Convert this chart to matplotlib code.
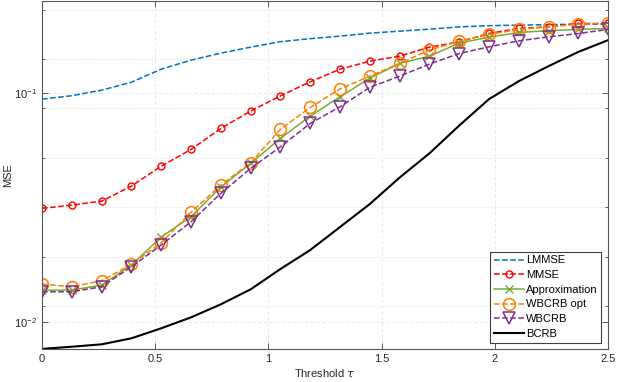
import numpy as np
import matplotlib
matplotlib.use("Agg")
import matplotlib.pyplot as plt
from matplotlib.ticker import FixedLocator, NullFormatter, LogFormatterMathtext

plt.rcParams['font.family'] = ['Liberation Sans', 'DejaVu Sans']
plt.rcParams['mathtext.default'] = 'regular'

# threshold values (20 points from 0 to 2.5)
tau = np.linspace(0, 2.5, 20)

lmmse = [0.0939, 0.0972, 0.1027, 0.1113, 0.1268, 0.1388, 0.1489, 0.1581, 0.1671, 0.1722,
         0.1766, 0.1820, 0.1857, 0.1894, 0.1938, 0.1962, 0.1972, 0.1982, 0.1992, 0.1992]
mmse = [0.03136, 0.03243, 0.03375, 0.03924, 0.04793, 0.05666, 0.06996, 0.08325, 0.0970, 0.1117,
        0.1268, 0.1374, 0.1445, 0.1581, 0.1668, 0.1814, 0.1908, 0.1939, 0.2006, 0.2006]
approx = [0.01382, 0.01382, 0.01453, 0.01777, 0.02352, 0.02889, 0.03884, 0.04927, 0.06329, 0.07916,
          0.09607, 0.1159, 0.1343, 0.1445, 0.1647, 0.1748, 0.1833, 0.1866, 0.1889, 0.1908]
wbcrb_opt = [0.01468, 0.01429, 0.01518, 0.01790, 0.02222, 0.03013, 0.03963, 0.04956, 0.06927, 0.08636,
             0.1040, 0.1182, 0.1343, 0.1535, 0.1680, 0.1796, 0.1889, 0.1939, 0.1992, 0.2006]
wbcrb = [0.01359, 0.01359, 0.01429, 0.01747, 0.02172, 0.02742, 0.03646, 0.04685, 0.05817, 0.07357,
         0.08690, 0.1056, 0.1182, 0.1334, 0.1484, 0.1586, 0.1685, 0.1754, 0.1814, 0.1889]
bcrb = [0.00766, 0.00783, 0.00802, 0.00852, 0.00942, 0.01051, 0.01198, 0.01392, 0.01707, 0.02065,
        0.02601, 0.03276, 0.04272, 0.05445, 0.07196, 0.09388, 0.1124, 0.1307, 0.1508, 0.1697]

y_minor = [0.01178, 0.01925, 0.03178, 0.0519, 0.0858, 0.1402, 0.2292]

fig = plt.figure(figsize=(6.18, 3.82), dpi=100)
ax = fig.add_axes([0.068, 0.0856, 0.916, 0.9125])

lw = 1.1
ax.plot(tau, lmmse, '--', color='#0072BD', lw=lw, label='LMMSE')
ax.plot(tau, mmse, '--o', color='#FF0000', lw=lw, ms=5, mfc='none', mew=1.0, label='MMSE')
ax.plot(tau, approx, '-x', color='#77AC30', lw=lw, ms=6, mew=1.0, label='Approximation')
ax.plot(tau, wbcrb_opt, '--o', color='#FF8000', lw=lw, ms=8.5, mfc='none', mew=1.1, label='WBCRB opt')
ax.plot(tau, wbcrb, '--v', color='#7E2F8E', lw=lw, ms=8.5, mfc='none', mew=1.1, label='WBCRB')
ax.plot(tau, bcrb, '-', color='black', lw=1.5, label='BCRB')

ax.set_yscale('log')
ax.set_xlim(0, 2.5)
ax.set_ylim(0.00763, 0.252)
ax.set_xticks([0, 0.5, 1, 1.5, 2, 2.5])
ax.set_xticklabels(['0', '0.5', '1', '1.5', '2', '2.5'])
ax.yaxis.set_major_locator(FixedLocator([0.01, 0.1]))
ax.yaxis.set_major_formatter(LogFormatterMathtext())
ax.yaxis.set_minor_locator(FixedLocator(y_minor))
ax.yaxis.set_minor_formatter(NullFormatter())

ax.tick_params(which='both', direction='in', top=True, right=True, labelsize=8,
               color='#404040', labelcolor='#262626', width=0.6)
ax.tick_params(which='major', length=4)
ax.tick_params(which='minor', length=2.5)
ax.grid(True, which='major', ls=(0, (4, 3)), color='#e6e6e6', lw=0.6)
ax.grid(True, which='minor', axis='y', ls=(0, (1, 2)), color='#d9d9d9', lw=0.6)
ax.set_axisbelow(True)
for s in ax.spines.values():
    s.set_color('#555555')
    s.set_linewidth(0.8)

ax.set_xlabel(r'Threshold $\mathit{\tau}$', fontsize=8, color='#262626', labelpad=2)
ax.set_ylabel('MSE', fontsize=8, color='#262626', labelpad=1)

leg = ax.legend(loc='lower right', fontsize=8, numpoints=1, handlelength=2.7,
                handletextpad=0.2, labelspacing=0.42, borderpad=0.35, borderaxespad=0.6,
                fancybox=False, framealpha=1, edgecolor='#404040')
leg.get_frame().set_linewidth(0.8)

fig.savefig('out.png', dpi=100)
